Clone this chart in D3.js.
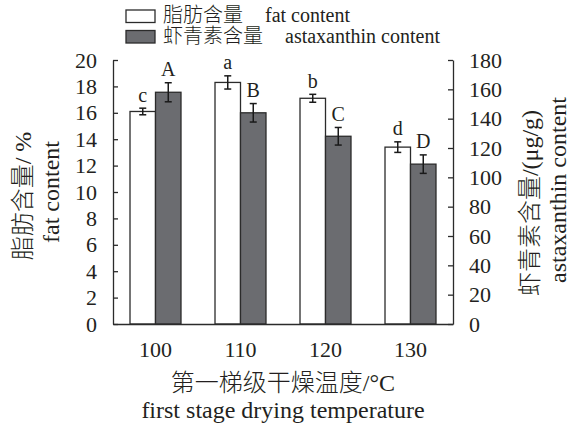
<!DOCTYPE html>
<html>
<head>
<meta charset="utf-8">
<script src="https://cdn.jsdelivr.net/npm/d3@7"></script>
<style>
  html, body { margin: 0; padding: 0; background: #fff; }
  svg { display: block; }
  svg text { fill: #231f20; font-weight: 300; font-family: "Liberation Serif", "Times New Roman", Times, "DejaVu Serif", serif, "Noto Sans CJK SC"; white-space: pre; }
</style>
</head>
<body>
<svg id="chart" width="571" height="428"></svg>
<script>
// Drying temperature groups (°C)
const temperatures = ["100", "110", "120", "130"];
// Fat content (%) with standard deviations and significance letters
const fatValues = [16.1, 18.3, 17.1, 13.4];
const fatErrors = [0.25, 0.5, 0.3, 0.4];
const fatLetters = ["c", "a", "b", "d"];
// Astaxanthin content (μg/g) with standard deviations and significance letters
const astaValues = [158, 144, 128, 109];
const astaErrors = [6.5, 6.3, 6.0, 6.3];
const astaLetters = ["A", "B", "C", "D"];
// Axis ticks
const fatTicks = [0, 2, 4, 6, 8, 10, 12, 14, 16, 18, 20];
const astaTicks = [0, 20, 40, 60, 80, 100, 120, 140, 160, 180];
const seriesKeys = ["fat", "asta"];

const serifStack = '"Liberation Serif", "Times New Roman", Times, "DejaVu Serif", serif, "Noto Sans CJK SC"';
const svg = d3.select("#chart");
const plotLeft = 113, plotRight = 453, plotTop = 60, plotBottom = 324;
const ink = "#2b2b2b";
const grayFill = "#6b6c70";

const x = d3.scaleBand().domain(temperatures).range([plotLeft, plotRight]).padding(0);
const xs = d3.scaleBand().domain(seriesKeys).range([0, x.bandwidth()])
  .paddingInner(0).paddingOuter(0.667);
const yL = d3.scaleLinear().domain([0, 20]).range([plotBottom, plotTop]);
const yR = d3.scaleLinear().domain([0, 180]).range([plotBottom, plotTop]);

const series = [
  { key: "fat", values: fatValues, errors: fatErrors, letters: fatLetters, y: yL, fill: "#ffffff" },
  { key: "asta", values: astaValues, errors: astaErrors, letters: astaLetters, y: yR, fill: grayFill }
];

// Bars
series.forEach(s => {
  const g = svg.append("g");
  temperatures.forEach((t, i) => {
    const bx = x(t) + xs(s.key);
    const w = xs.bandwidth();
    const v = s.values[i];
    g.append("rect")
      .attr("x", bx).attr("y", s.y(v))
      .attr("width", w).attr("height", s.y(0) - s.y(v))
      .attr("fill", s.fill).attr("stroke", ink).attr("stroke-width", 1.3);
    // Error bar
    const cx = bx + w / 2;
    const yTop = s.y(v + s.errors[i]);
    const yBot = s.y(v - s.errors[i]);
    g.append("line").attr("x1", cx).attr("x2", cx).attr("y1", yTop).attr("y2", yBot)
      .attr("stroke", "#1a1a1a").attr("stroke-width", 1.5);
    [yTop, yBot].forEach(yy => {
      g.append("line").attr("x1", cx - 3.5).attr("x2", cx + 3.5).attr("y1", yy).attr("y2", yy)
        .attr("stroke", "#1a1a1a").attr("stroke-width", 1.5);
    });
    // Significance letter
    g.append("text")
      .attr("x", cx).attr("y", yTop - 6.5)
      .attr("text-anchor", "middle")
      .attr("font-size", 20)
      .text(s.letters[i]);
  });
});

// Left axis (fat content)
const axL = svg.append("g").attr("transform", `translate(${plotLeft},0)`)
  .call(d3.axisLeft(yL).tickValues(fatTicks).tickSizeInner(-5).tickSizeOuter(0).tickPadding(16));
// Right axis (astaxanthin content)
const axR = svg.append("g").attr("transform", `translate(${plotRight},0)`)
  .call(d3.axisRight(yR).tickValues(astaTicks).tickSizeInner(-5).tickSizeOuter(0).tickPadding(16));
// Bottom axis (temperature)
const axB = svg.append("g").attr("transform", `translate(0,${plotBottom})`)
  .call(d3.axisBottom(x).tickSize(0).tickPadding(17.5));

[axL, axR, axB].forEach(a => {
  a.attr("font-family", null);
  a.selectAll("path, line").attr("stroke", ink).attr("stroke-width", 1.3);
  a.selectAll("text").attr("font-size", 22).attr("fill", "#231f20")
    .style("font-family", serifStack);
});

// Axis titles
function vTitle(txt, cx, cy, size) {
  svg.append("text")
    .attr("transform", `translate(${cx},${cy}) rotate(-90)`)
    .attr("text-anchor", "middle").attr("dy", "0.35em")
    .attr("font-size", size).text(txt);
}
vTitle("脂肪含量/ %", 23, 196, 24);
vTitle("fat content", 51, 192, 24);
vTitle("虾青素含量/(μg/g)", 530, 203, 24);
vTitle("astaxanthin content", 558, 190, 24);

svg.append("text").attr("x", (plotLeft + plotRight) / 2).attr("y", 391)
  .attr("text-anchor", "middle").attr("font-size", 24).text("第一梯级干燥温度/°C");
svg.append("text").attr("x", (plotLeft + plotRight) / 2).attr("y", 418)
  .attr("text-anchor", "middle").attr("font-size", 24).text("first stage drying temperature");

// Legend
const legendItems = [
  { fill: "#ffffff", zh: "脂肪含量", en: "fat content", enX: 265, y: 10 },
  { fill: grayFill, zh: "虾青素含量", en: "astaxanthin content", enX: 285, y: 30.5 }
];
legendItems.forEach(d => {
  svg.append("rect").attr("x", 126).attr("y", d.y).attr("width", 29).attr("height", 12.5)
    .attr("fill", d.fill).attr("stroke", ink).attr("stroke-width", 1.3);
  svg.append("text").attr("x", 163).attr("y", d.y + 12).attr("font-size", 20).text(d.zh);
  svg.append("text").attr("x", d.enX).attr("y", d.y + 12).attr("font-size", 20).text(d.en);
});
</script>
</body>
</html>
